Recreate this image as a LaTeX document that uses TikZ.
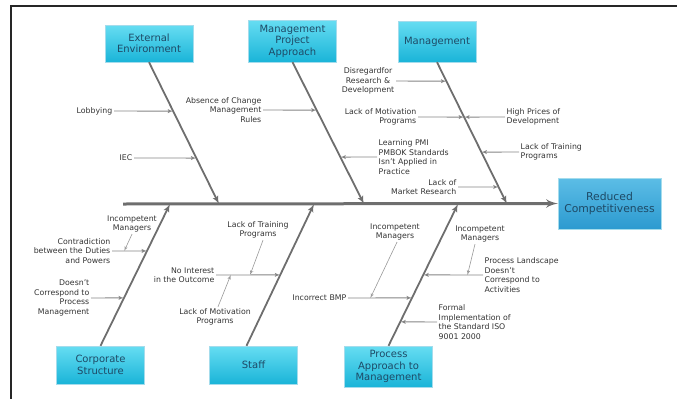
\documentclass[tikz,border=0pt]{standalone}
\usepackage{fontspec}
\setmainfont{DejaVu Sans}
\usetikzlibrary{arrows,calc}
\definecolor{bonegray}{HTML}{6E6E6E}
\definecolor{boxtop}{HTML}{66DDF2}
\definecolor{boxbot}{HTML}{1AB4D8}
\definecolor{boxedge}{HTML}{A4DCEC}
\definecolor{effecttop}{HTML}{5CBDE6}
\definecolor{effectbot}{HTML}{2C9AD0}
\definecolor{boxtext}{HTML}{1E4A66}
\definecolor{labeltext}{HTML}{333333}
\tikzset{
	spine/.style={draw=bonegray, line width=3pt, -latex'},
	bone/.style={draw=bonegray, line width=1.8pt, -latex'},
	cause/.style={draw=bonegray!85, line width=0.9pt, -latex'},
	hint/.style={draw=bonegray!70, line width=0.6pt, -latex'},
	catbox/.style={draw=boxedge, top color=boxtop, bottom color=boxbot, minimum width=88pt, minimum height=41pt,
		text=boxtext, font=\fontsize{10}{11.5}\selectfont, align=center, inner sep=1pt},
	effectbox/.style={catbox, top color=effecttop, bottom color=effectbot, minimum width=103pt, minimum height=51pt,
		font=\fontsize{10.8}{12.5}\selectfont},
	label/.style={font=\fontsize{7.8}{9.5}\selectfont, text=labeltext, inner sep=1.5pt},
}

\begin{document}
\begin{tikzpicture}[x=1pt,y=-1pt]
	\useasboundingbox (0,0) rectangle (677,399);
	\draw[line width=1.5pt, black!85] (677,6) -- (11,6) -- (11,399);

	\node[catbox, minimum height=37pt] (ext) at (149,43.5) {External\\Environment};
	\node[catbox, minimum height=42pt] (mpa) at (292.5,41) {Management\\Project\\Approach};
	\node[catbox, minimum width=78pt] (mgmt) at (437,41.5) {Management};
	\node[catbox, minimum height=38pt] (corp) at (100.5,365) {Corporate\\Structure};
	\node[catbox, minimum height=38pt] (staff) at (253.5,365) {Staff};
	\node[catbox] (proc) at (388.5,366.5) {Process\\Approach to\\Management};
	\node[effectbox] (effect) at (609.5,203.5) {Reduced\\Competitiveness};

	\coordinate (tail) at (123,204);
	\coordinate (ehead) at (219,204);
	\coordinate (mhead) at (364,204);
	\coordinate (ghead) at (507,204);
	\coordinate (chead) at (170,204);
	\coordinate (shead) at (314,204);
	\coordinate (phead) at (458,204);

	\draw[spine] (tail) -- (effect.west);
	\draw[bone] (ext.south) -- (ehead);
	\draw[bone] (mpa.south) -- (mhead);
	\draw[bone] (mgmt.south) -- (ghead);
	\draw[bone] (corp.north) -- (chead);
	\draw[bone] ([xshift=-7pt]staff.north) -- (shead);
	\draw[bone] (proc.north) -- (phead);

	\node[label, anchor=east] (lobby) at (114,111) {Lobbying};
	\node[label, anchor=east] (iec) at (134,158) {IEC};
	\node[label, anchor=east, align=right] (absence) at (263,110) {Absence of Change\\Management\\Rules};
	\node[label, anchor=west, align=left] (learning) at (377,157) {Learning PMI\\PMBOK Standards\\Isn't Applied in\\Practice};
	\node[label, anchor=east, align=right] (market) at (458,187) {Lack of\\Market Research};
	\node[label, anchor=east, align=center] (disregard) at (396,81) {Disregardfor\\Research \&\\Development};
	\node[label, anchor=east, align=right] (motiv1) at (418,117) {Lack of Motivation\\Programs};
	\node[label, anchor=west, align=left] (prices) at (505,117) {High Prices of\\Development};
	\node[label, anchor=west, align=left] (training1) at (519,152) {Lack of Training\\Programs};

	\node[label, align=center] (incomp1) at (132,224) {Incompetent\\Managers};
	\node[label, anchor=east, align=right] (contra) at (112,251) {Contradiction\\between the Duties\\and Powers};
	\node[label, anchor=east, align=right] (doesnt) at (91,298) {Doesn't\\Correspond to\\Process\\Management};
	\node[label, align=center] (training2) at (258,230) {Lack of Training\\Programs};
	\node[label, anchor=east, align=right] (interest) at (216,275) {No Interest\\in the Outcome};
	\node[label, align=center] (motiv2) at (215,317) {Lack of Motivation\\Programs};
	\node[label, align=center] (incomp2) at (395,232) {Incompetent\\Managers};
	\node[label, anchor=east] (bmp) at (348,298) {Incorrect BMP};
	\node[label, align=center] (incomp3) at (480,234) {Incompetent\\Managers};
	\node[label, anchor=west, align=left] (landscape) at (483,275) {Process Landscape\\Doesn't\\Correspond to\\Activities};
	\node[label, anchor=west, align=left] (formal) at (437,322) {Formal\\Implementation of\\the Standard ISO\\9001 2000};

	\coordinate (t-contra) at ($(corp.north)!0.669!(chead)$);
	\coordinate (t-interest) at ($([xshift=-7pt]staff.north)!0.5!(shead)$);
	\coordinate (t-bmp) at ($(proc.north)!0.338!(phead)$);
	\coordinate (t-landscape) at ($(proc.north)!0.5!(phead)$);

	\draw[cause] (lobby.east) -- ($(ext.south)!0.345!(ehead)$);
	\draw[cause] (iec.east) -- ($(ext.south)!0.676!(ehead)$);
	\draw[cause] (absence.east) -- ($(mpa.south)!0.338!(mhead)$);
	\draw[cause] (learning.west) -- ($(mpa.south)!0.669!(mhead)$);
	\draw[cause] (market.east) -- ($(mgmt.south)!0.880!(ghead)$);
	\draw[cause] (disregard.east) -- ($(mgmt.south)!0.134!(ghead)$);
	\draw[cause] (motiv1.east) -- ($(mgmt.south)!0.387!(ghead)$);
	\draw[cause] (prices.west) -- ($(mgmt.south)!0.387!(ghead)$);
	\draw[cause] (training1.west) -- ($(mgmt.south)!0.634!(ghead)$);
	\draw[cause] (contra.east) -- (t-contra);
	\draw[cause] (doesnt.east) -- ($(corp.north)!0.338!(chead)$);
	\draw[cause] (interest.east) -- (t-interest);
	\draw[cause] (bmp.east) -- (t-bmp);
	\draw[cause] (landscape.west) -- (t-landscape);
	\draw[cause] (formal.west) -- ($(proc.north)!0.169!(phead)$);

	\draw[hint] (incomp1.south) -- ($(contra.east)!0.35!(t-contra)$);
	\draw[hint] ([xshift=5pt]training2.south) -- ($(interest.east)!0.53!(t-interest)$);
	\draw[hint] ([xshift=3pt]motiv2.north) -- ($(interest.east)!0.23!(t-interest)$);
	\draw[hint] ([xshift=2pt]incomp2.south) -- ($(bmp.east)!0.35!(t-bmp)$);
	\draw[hint] ([xshift=-5pt]incomp3.south) -- ($(landscape.west)!0.26!(t-landscape)$);
\end{tikzpicture}
\end{document}
